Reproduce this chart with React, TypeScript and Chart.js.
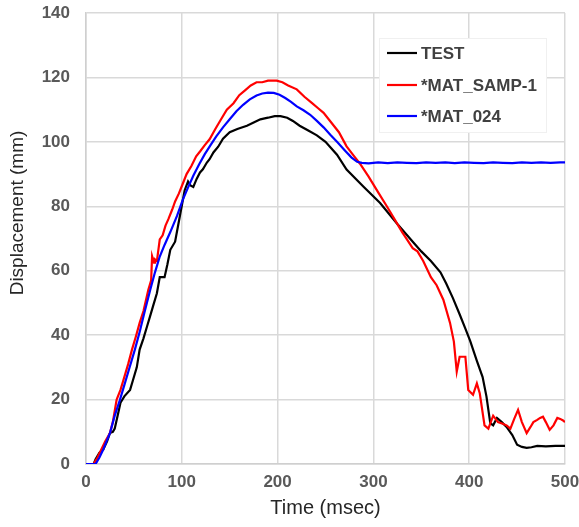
import React, { useEffect, useRef } from 'react';
import { Chart, registerables } from 'chart.js';

Chart.register(...registerables);

const xTickValues = [0, 100, 200, 300, 400, 500];
const yTickValues = [0, 20, 40, 60, 80, 100, 120, 140];
const seriesNames = ['TEST', '*MAT_SAMP-1', '*MAT_024'];
const seriesColors = ['#000000', '#ff0000', '#0000ff'];
const xTitle = 'Time (msec)';
const yTitle = 'Displacement (mm)';

const testTime = [0, 8, 10, 14, 18, 22, 25, 28, 30, 33, 36, 40, 46, 49, 53, 56, 60, 64, 67, 70, 74, 77, 80, 82, 85, 88, 93, 98, 103, 106.5, 109, 112, 115.5, 119, 122, 126, 129, 133, 138, 143, 150, 158, 168, 175, 182, 190, 197, 203, 210, 216, 223, 232, 241, 250, 262, 272, 290, 307, 325, 342, 350, 360, 370, 376, 383, 390, 396, 401, 408, 414, 418, 422, 425, 429, 434, 439, 445, 450, 455, 460, 465, 471, 480, 490, 500];
const testDisp = [0, 0, 1.5, 3.5, 4.5, 7, 9.6, 10, 11, 15, 19, 21, 23, 26, 30, 35.5, 39, 43, 46, 49, 53, 58, 58, 58, 62, 66.5, 69, 77, 85, 87.7, 86.5, 86, 88.5, 90.5, 91.5, 93.5, 94.6, 96.7, 98.5, 101, 103, 104, 105, 106, 107, 107.5, 108, 108, 107.5, 106.5, 105, 103.5, 102, 100, 96, 91.4, 86, 81, 74.5, 68.7, 66, 63, 59.5, 56, 51.5, 46.5, 42, 38.2, 32, 27, 21, 12.7, 12, 14.3, 13, 11.5, 9, 6, 5.3, 5, 5.2, 5.6, 5.5, 5.6, 5.6];

const sampTime = [0, 8, 12, 16, 20, 25, 28, 32, 36, 39, 44, 48, 52, 56, 60, 65, 68, 69, 71, 72, 74, 77, 80, 83, 86, 90, 93, 97, 101, 105, 110, 115, 119, 124, 129, 135, 141, 147, 154, 160, 166, 172, 178, 184, 190, 195, 199, 205, 211, 220, 228, 236, 242, 248, 256, 264, 272, 280, 286, 295, 305, 314, 322, 330, 335, 341, 346, 352, 360, 366, 373, 380, 384, 387, 390, 396, 399, 404, 408, 411, 416, 420, 425, 430, 435, 439, 443, 447, 451, 455, 460, 464, 467, 471, 474, 477, 480, 484, 488, 492, 495, 498, 500];
const sampDisp = [0, 0, 2, 4.5, 7, 9.6, 13, 20, 23, 26, 31, 35.5, 39.5, 43.8, 47.5, 54, 57, 64.5, 62.5, 63.5, 63, 69.7, 71, 74, 76, 79, 81.5, 84, 87, 90, 92.5, 95.5, 97, 99, 100.8, 104, 107, 110, 112, 114.5, 116, 117.5, 118.5, 118.5, 119, 119, 119, 118.5, 117.5, 116.3, 114, 112, 110.5, 109, 106, 103, 98.6, 95.5, 93.2, 89.2, 84.3, 80, 76, 72, 69.7, 67, 66, 63, 58, 55.5, 51, 43.8, 38, 28.7, 33.3, 33.3, 23, 21.5, 25, 22, 12, 11, 15, 13, 12.5, 12, 11, 14, 16.8, 13, 9.6, 11.5, 13, 13.7, 14.3, 14.7, 13, 10.6, 12, 14.3, 14, 13.5, 13];

const mat024Time = [0, 10, 14, 18, 22, 25, 30, 35, 40, 45, 51, 56, 61, 67, 72, 77, 82, 88, 95, 101, 106, 112, 118, 124, 130, 136, 143, 150, 157, 164, 171, 178, 184, 190, 196, 202, 208, 214, 220, 227, 234, 241, 248, 255, 262, 270, 277, 283, 288, 295, 305, 315, 325, 335, 345, 355, 365, 375, 385, 395, 405, 415, 425, 435, 445, 455, 465, 475, 485, 495, 500];
const mat024Disp = [0, 0, 2, 4.5, 7.5, 9.6, 15, 19.5, 24.5, 29.5, 35.5, 41, 47, 54, 59.5, 64.4, 68, 72, 77, 82, 85.5, 89.5, 93, 96.2, 99, 101.7, 104.5, 107, 109.5, 111.5, 113.2, 114.4, 115, 115.3, 115.2, 114.6, 113.6, 112.4, 111, 109.8, 108.4, 106.5, 104.5, 102.2, 100, 97.4, 95.2, 93.8, 93.5, 93.3, 93.6, 93.4, 93.6, 93.5, 93.4, 93.6, 93.5, 93.6, 93.4, 93.6, 93.5, 93.4, 93.6, 93.5, 93.4, 93.6, 93.5, 93.6, 93.5, 93.6, 93.6];

const FONT = '"Liberation Sans", Arial, sans-serif';

const toPoints = (xs: number[], ys: number[]) => xs.map((x, i) => ({ x, y: ys[i] }));

const zeroPad = (s: any) => {
  s.paddingLeft = 0;
  s.paddingRight = 0;
  s.paddingTop = 0;
  s.paddingBottom = 0;
};

const overlayPlugin = {
  id: 'overlay',
  afterDraw(chart: any) {
    const ctx = chart.ctx as CanvasRenderingContext2D;
    ctx.save();
    ctx.fillStyle = '#ffffff';
    ctx.fillRect(379, 38, 167, 94);
    ctx.strokeStyle = '#f0f0f0';
    ctx.lineWidth = 1;
    ctx.strokeRect(379.5, 38.5, 167, 94);
    const rowsY = [53, 85, 116];
    ctx.font = `bold 17px ${FONT}`;
    ctx.textAlign = 'left';
    ctx.textBaseline = 'middle';
    seriesNames.forEach((name, i) => {
      ctx.strokeStyle = seriesColors[i];
      ctx.lineWidth = 2.2;
      ctx.beginPath();
      ctx.moveTo(387, rowsY[i]);
      ctx.lineTo(417, rowsY[i]);
      ctx.stroke();
      ctx.fillStyle = '#404040';
      ctx.fillText(name, 421, rowsY[i] + 1);
    });
    ctx.translate(18, 213);
    ctx.rotate(-Math.PI / 2);
    ctx.textAlign = 'center';
    ctx.textBaseline = 'middle';
    ctx.font = `19px ${FONT}`;
    ctx.fillStyle = '#262626';
    ctx.fillText(yTitle, 0, 0);
    ctx.restore();
  },
};

export default function App() {
  const canvasRef = useRef<HTMLCanvasElement | null>(null);

  useEffect(() => {
    if (!canvasRef.current) return;
    const datasets = [
      { label: seriesNames[0], data: toPoints(testTime, testDisp), borderColor: seriesColors[0], order: 2 },
      { label: seriesNames[1], data: toPoints(sampTime, sampDisp), borderColor: seriesColors[1], order: 1 },
      { label: seriesNames[2], data: toPoints(mat024Time, mat024Disp), borderColor: seriesColors[2], order: 0 },
    ].map((d) => ({ ...d, borderWidth: 2.2, pointRadius: 0, tension: 0, fill: false }));

    const chart = new Chart(canvasRef.current, {
      type: 'line',
      data: { datasets },
      plugins: [overlayPlugin],
      options: {
        animation: false,
        responsive: false,
        layout: { padding: { top: 13, right: 14, left: 0, bottom: 0 } },
        plugins: { legend: { display: false }, tooltip: { enabled: false } },
        scales: {
          x: {
            type: 'linear',
            min: 0,
            max: 500,
            afterFit: (s: any) => { s.height = 63; zeroPad(s); },
            afterBuildTicks: (s: any) => { s.ticks = xTickValues.map((v) => ({ value: v })); },
            grid: { color: '#d9d9d9', lineWidth: 1.5, drawTicks: false },
            border: { color: '#cfcfcf', width: 1.5 },
            ticks: { color: '#595959', padding: 8, font: { family: FONT, size: 17, weight: 'bold' }, maxRotation: 0 },
            title: { display: true, text: xTitle, color: '#262626', font: { family: FONT, size: 20 }, padding: { top: 0, bottom: 7 } },
          },
          y: {
            type: 'linear',
            min: 0,
            max: 140,
            afterFit: (s: any) => { s.width = 86; zeroPad(s); },
            afterBuildTicks: (s: any) => { s.ticks = yTickValues.map((v) => ({ value: v })); },
            grid: { color: '#d9d9d9', lineWidth: 1.5, drawTicks: false },
            border: { color: '#cfcfcf', width: 1.5 },
            ticks: { color: '#595959', padding: 16, font: { family: FONT, size: 17, weight: 'bold' } },
          },
        },
      } as any,
    });
    return () => chart.destroy();
  }, []);

  return (
    <div style={{ position: 'fixed', left: 0, top: 0, width: 579, height: 527, background: '#fff' }}>
      <canvas ref={canvasRef} width={579} height={527} style={{ display: 'block' }} />
    </div>
  );
}
